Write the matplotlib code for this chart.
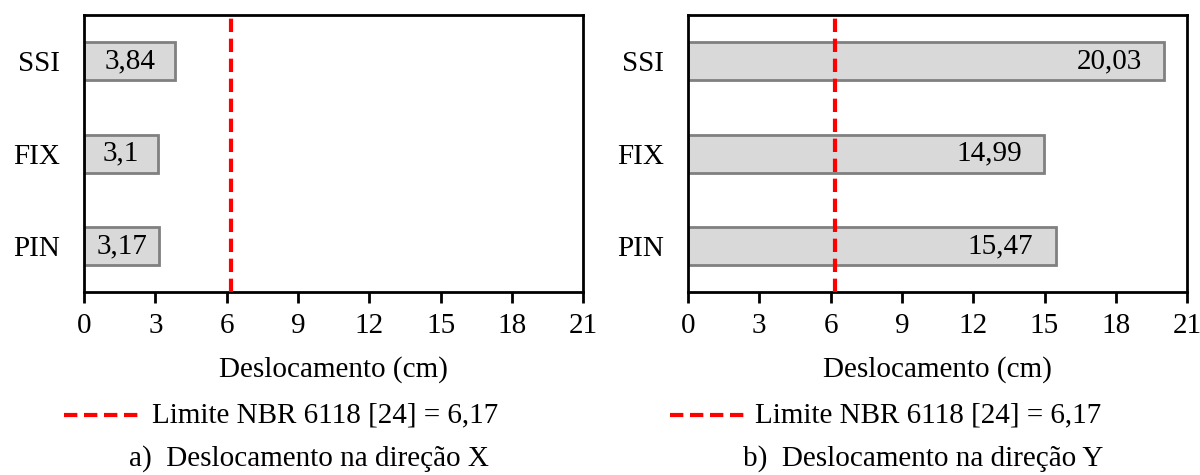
import matplotlib
matplotlib.use("Agg")
import matplotlib.pyplot as plt
from matplotlib.lines import Line2D

plt.rcParams['font.family'] = ['Liberation Serif', 'DejaVu Serif']
plt.rcParams['font.size'] = 21

# dados
categorias = ["PIN", "FIX", "SSI"]
desloc_x = [3.17, 3.10, 3.84]
desloc_y = [15.47, 14.99, 20.03]
rotulos_x = ["3,17", "3,1", "3,84"]
rotulos_y = ["15,47", "14,99", "20,03"]
limite = 6.17
ticks = [0, 3, 6, 9, 12, 15, 18, 21]

fig = plt.figure(figsize=(12, 4.75), dpi=100)
ax1 = fig.add_axes([0.07, 0.385, 0.416, 0.583])
ax2 = fig.add_axes([0.5733, 0.385, 0.416, 0.583])


def desenha(ax, valores, rotulos, dentro_fim):
    pos = range(len(categorias))
    ax.barh(pos, valores, height=0.41, color="#d9d9d9", edgecolor="#808080",
            linewidth=2, zorder=2)
    for p, v, r in zip(pos, valores, rotulos):
        if dentro_fim:
            ax.text(v - 0.95, p, r, ha="right", va="center", zorder=4)
        else:
            ax.text(v / 2, p, r, ha="center", va="center", zorder=4)
    ax.axvline(limite, color="red", linestyle=(0, (3.2, 1.6)), linewidth=3, zorder=3)
    ax.set_xlim(0, 21)
    ax.set_ylim(-0.5, 2.5)
    ax.set_xticks(ticks)
    ax.set_yticks(list(pos))
    ax.set_yticklabels(categorias)
    ax.tick_params(axis="y", length=0, pad=17)
    ax.tick_params(axis="x", direction="out", length=8, width=2, pad=7)
    for s in ax.spines.values():
        s.set_linewidth(2)
    ax.set_xlabel("Deslocamento (cm)", labelpad=12)


desenha(ax1, desloc_x, rotulos_x, False)
desenha(ax2, desloc_y, rotulos_y, True)

# legenda da linha limite
leg_txt = "Limite NBR 6118 [24] = 6,17"
for x0, x1, xt in [(0.053, 0.115, 0.127), (0.558, 0.622, 0.629)]:
    fig.add_artist(Line2D([x0, x1], [0.126, 0.126], color="red", linewidth=3,
                          linestyle=(0, (3.2, 1.6)), transform=fig.transFigure))
    fig.text(xt, 0.126, leg_txt, ha="left", va="center")

fig.text(0.1075, 0.034, "a)  Deslocamento na direção X", ha="left", va="center")
fig.text(0.619, 0.034, "b)  Deslocamento na direção Y", ha="left", va="center")

fig.savefig("out.png", dpi=100)
